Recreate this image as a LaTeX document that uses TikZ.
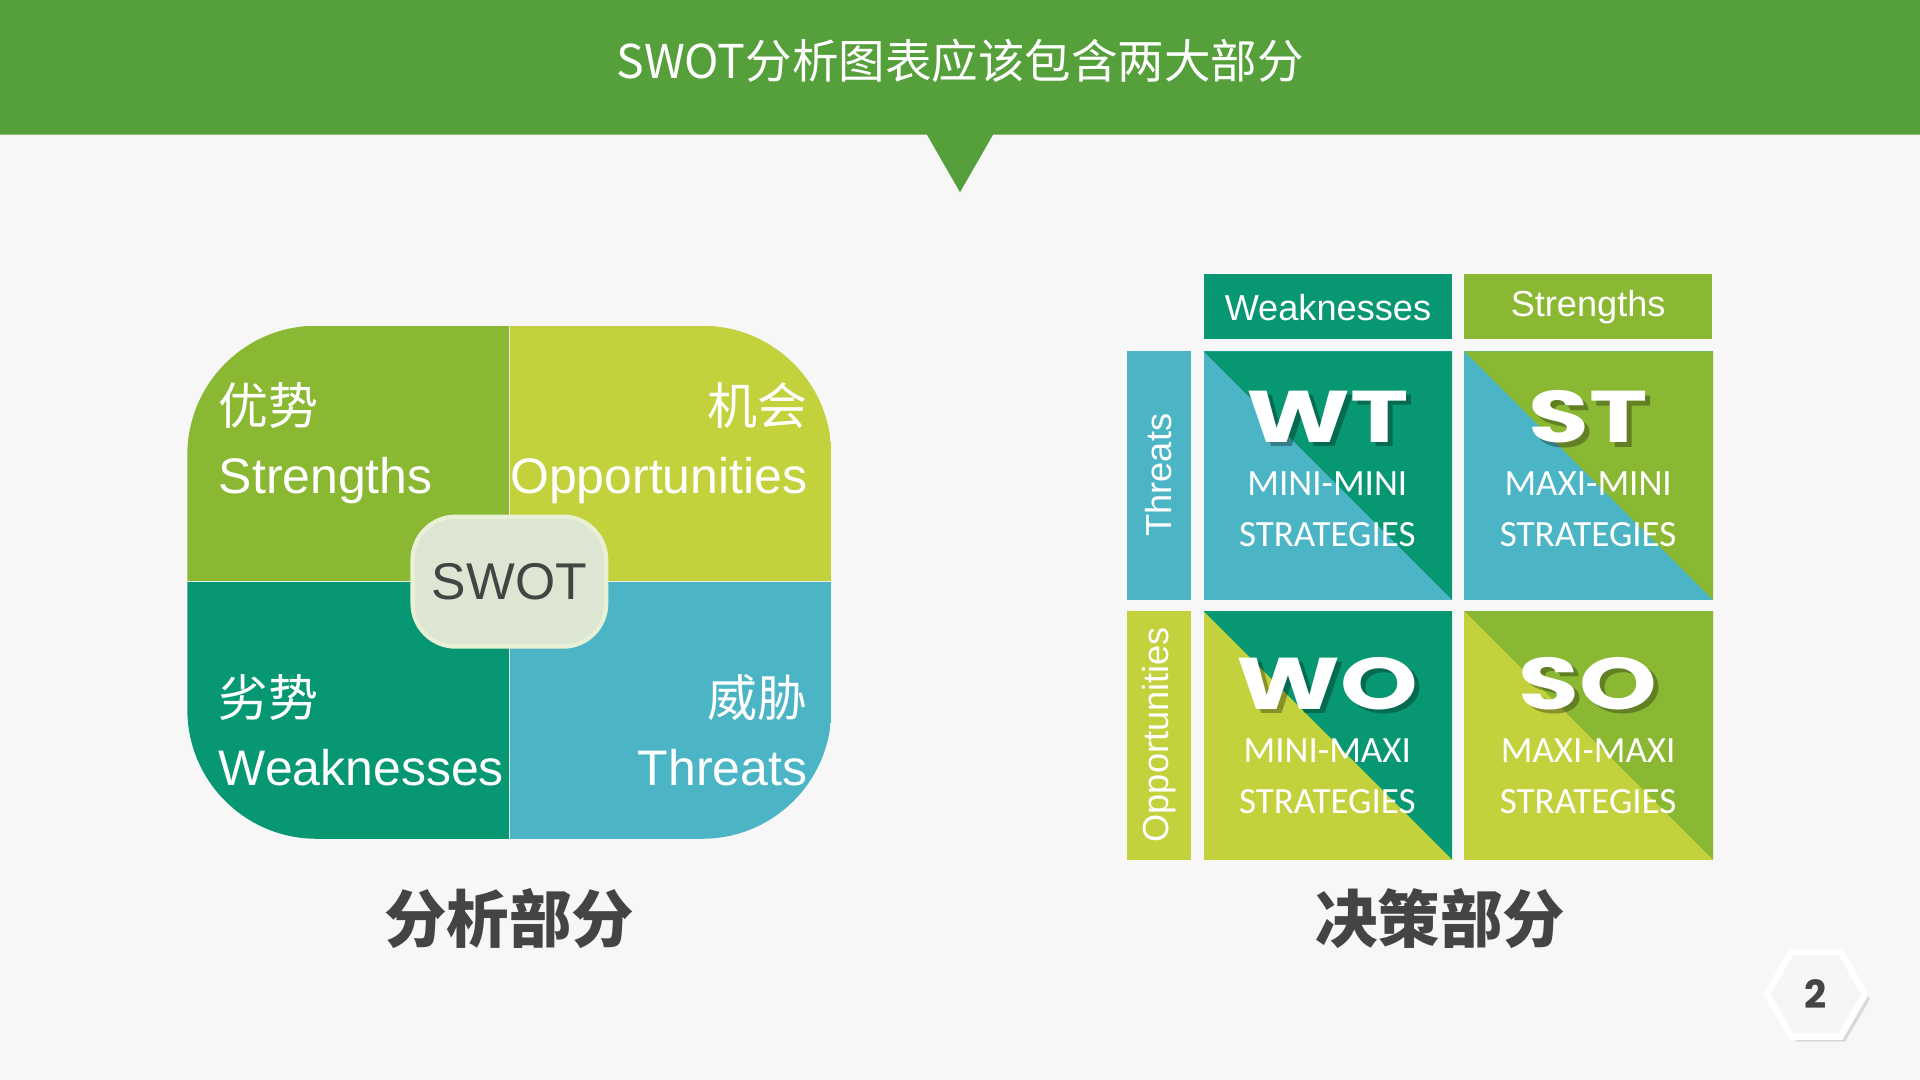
\documentclass[tikz,border=0pt]{standalone}
\usepackage{fontspec}
\setmainfont{Liberation Sans}
\newfontfamily\cjk{Noto Sans CJK SC}
\newfontfamily\calfont{Carlito}
\newfontfamily\popfont{Poppins}
\usetikzlibrary{shapes.geometric,shadows}
\definecolor{hdr}{HTML}{55A03A}
\definecolor{bg}{HTML}{F7F7F7}
\definecolor{cg}{HTML}{8BB833}
\definecolor{cl}{HTML}{C2D13C}
\definecolor{ct}{HTML}{079873}
\definecolor{cb}{HTML}{4BB5C6}
\definecolor{txt}{HTML}{444444}
\definecolor{swotfill}{HTML}{DCE6D2}
\tikzset{
 big/.style={text=white,font=\popfont\bfseries\fontsize{17}{17}\selectfont,inner sep=0},
 sub/.style={text=white,font=\calfont\fontsize{8.6}{11}\selectfont,align=center,inner sep=0},
 hd/.style={text=white,font=\fontsize{8.4}{10}\selectfont,inner sep=0},
 ql/.style={text=white,font=\fontsize{11.6}{14}\selectfont,inner sep=0},
}
\newcommand{\mycell}[4]{%
 \fill[#4] (#1,#2) rectangle ++(203,203);
 \fill[#3] (#1,#2) -- ++(203,0) -- ++(0,203) -- cycle;
}
\begin{document}
\begin{tikzpicture}[x=0.01cm,y=-0.01cm]
\fill[bg] (0,0) rectangle (1568,882);
\useasboundingbox (0,0) rectangle (1568,882);
\fill[hdr] (0,0) -- (1568,0) -- (1568,110) -- (811,110) -- (784,157) -- (757,110) -- (0,110) -- cycle;
\node[text=white,font=\cjk\fontsize{10.8}{12}\selectfont] (title) at (784,50) {SWOT分析图表应该包含两大部分};
% left quadrant
\begin{scope}
\clip[rounded corners=30] (153,266) rectangle (679,685);
\fill[cg] (153,266) rectangle (416,475);
\fill[cl] (416,266) rectangle (679,475);
\fill[ct] (153,475) rectangle (416,685);
\fill[cb] (416,475) rectangle (679,685);
\draw[white!85!gray,line width=0.3pt] (416,266) -- (416,685) (153,475) -- (679,475);
\end{scope}
\node[ql,anchor=north west,align=left] (s) at (178,312) {{\cjk 优势}\\[2pt]Strengths};
\node[ql,anchor=north east,align=right] (o) at (660,312) {{\cjk 机会}\\[2pt]Opportunities};
\node[ql,anchor=north west,align=left] (w) at (178,550) {{\cjk 劣势}\\[2pt]Weaknesses};
\node[ql,anchor=north east,align=right] (t) at (660,550) {{\cjk 威胁}\\[2pt]Threats};
\node[draw=white!80!cg,line width=1pt,fill=swotfill,rounded corners=10,minimum width=1.58cm,minimum height=1.06cm,text=txt,font=\fontsize{12}{14}\selectfont] (swot) at (416,475) {SWOT};
\node[text=txt,font=\cjk\bfseries\fontsize{14.5}{16}\selectfont] (l1) at (416,750) {分析部分};
\node[text=txt,font=\cjk\bfseries\fontsize{14.5}{16}\selectfont] (l2) at (1176,750) {决策部分};
% right matrix
\fill[ct] (983,224) rectangle (1186,277);
\fill[cg] (1196,224) rectangle (1398,277);
\node[hd] (hw) at (1084.5,251) {Weaknesses};
\node[hd] (hs) at (1297,251) {Strengths};
\fill[cb] (920,287) rectangle (973,490);
\fill[cl] (920,499) rectangle (973,702);
\node[hd,rotate=90] (rt) at (946.5,388) {Threats};
\node[hd,rotate=90] (ro) at (946.5,600) {Opportunities};
\mycell{983}{287}{ct}{cb}
\mycell{1196}{287}{cg}{cb}
\mycell{983}{499}{ct}{cl}
\mycell{1196}{499}{cg}{cl}
\foreach \x/\y/\a/\b/\c in {1084/340/WT/MINI-MINI/wt, 1297/340/ST/MAXI-MINI/st, 1084/558/WO/MINI-MAXI/wo, 1297/558/SO/MAXI-MAXI/so}{
 \node[big,text=black,opacity=0.3,xscale=1.35] at (\x+4,\y+4) {\a};
 \node[big,xscale=1.35] (\c) at (\x,\y) {\a};
 \node[sub] (\c s) at (\x,\y+76) {\b\\[1pt]STRATEGIES};
}
% page badge
\node[regular polygon,regular polygon sides=6,minimum size=0.8cm,fill=white!93!gray,draw=white,line width=1.5pt,drop shadow={shadow xshift=0.04cm,shadow yshift=-0.04cm,opacity=0.25},inner sep=0,text=txt,font=\popfont\bfseries\fontsize{9}{9}\selectfont] (pg) at (1483,812) {2};
\end{tikzpicture}
\end{document}
